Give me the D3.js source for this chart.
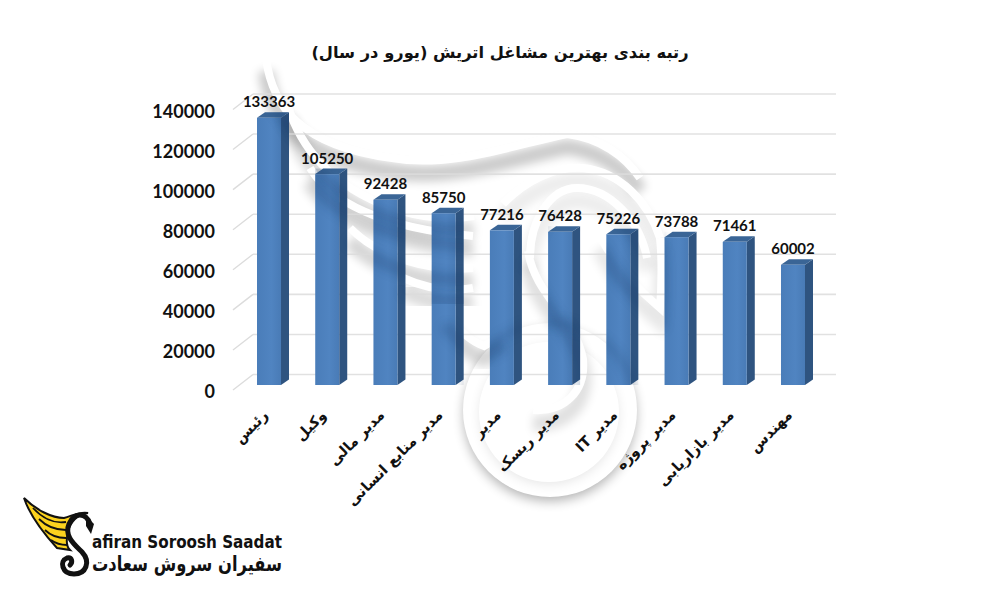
<!DOCTYPE html>
<html>
<head>
<meta charset="utf-8">
<script src="https://cdn.jsdelivr.net/npm/d3@7"></script>
<style>
  html,body{margin:0;padding:0;background:#fff;}
  svg{display:block;}
</style>
</head>
<body>
<script>
var titleText = "رتبه بندی بهترین مشاغل اتریش (یورو در سال)";
var categories = ["رئیس","وکیل","مدیر مالی","مدیر منابع انسانی","مدیر","مدیر ریسک","مدیر IT","مدیر پروژه","مدیر بازاریابی","مهندس"];
var salaries = [133363,105250,92428,85750,77216,76428,75226,73788,71461,60002];
var yTicks = [0,20000,40000,60000,80000,100000,120000,140000];

var svg = d3.select("body").append("svg").attr("width",1000).attr("height",600);
var defs = svg.append("defs");

defs.append("filter").attr("id","soft").attr("x","-30%").attr("y","-30%").attr("width","160%").attr("height","160%")
  .append("feGaussianBlur").attr("stdDeviation",5);
defs.append("filter").attr("id","ringSoft").attr("x","-30%").attr("y","-30%").attr("width","160%").attr("height","160%")
  .append("feGaussianBlur").attr("stdDeviation",6);

var faceGrad = defs.append("linearGradient").attr("id","face");
faceGrad.append("stop").attr("offset","0%").attr("stop-color","#4a7db9");
faceGrad.append("stop").attr("offset","60%").attr("stop-color","#5084c1");
faceGrad.append("stop").attr("offset","100%").attr("stop-color","#497bb6");

// scales: back wall, front of the bars, and the axis labels sit on three offset planes
var x = d3.scaleBand().domain(categories).range([257,805]).paddingInner(0.5876).paddingOuter(0);
var yBack = d3.scaleLinear().domain([0,140000]).range([374.5,94]);
var yFront = d3.scaleLinear().domain([0,140000]).range([385,104.5]);
var yLabel = d3.scaleLinear().domain([0,140000]).range([391.5,111.5]);
var depthX = 8, depthY = 5.5;

// watermark (swan): edges that throw a soft shadow downwards
var wmEdges = [
  "M266,62 C272,110 300,150 392,162 C450,172 510,150 567,138 C600,142 625,160 640,182",
  "M288,110 C300,150 330,190 392,212 C420,222 450,224 474,220",
  "M310,172 C330,205 380,232 473,240",
  "M350,232 C380,262 430,276 473,272",
  "M403,282 C425,292 450,296 473,292",
  "M445,318 C460,335 470,345 484,350 L505,338",
  "M503,208 C525,185 555,170 583,172 C620,176 648,205 660,242",
  "M530,262 C530,225 550,192 577,192 C610,192 640,225 647,262",
  "M528,255 C535,300 575,320 583,363 C586,395 565,416 533,414",
  "M600,240 C615,270 640,295 660,312 C662,285 662,262 660,242"
];
var wmStrength = [.2,.14,.17,.16,.14,.16,.07,.07,.12,.09];
var wm = svg.append("g").attr("fill","none").attr("stroke-linecap","butt");

// ring
wm.append("circle").attr("cx",550).attr("cy",415).attr("r",86).attr("fill","#000").attr("opacity",.3)
  .attr("filter","url(#ringSoft)");
wm.append("circle").attr("cx",550).attr("cy",410).attr("r",87).attr("fill","#fff");
wm.append("circle").attr("cx",549).attr("cy",415).attr("r",69).attr("fill","#000").attr("opacity",.1)
  .attr("filter","url(#ringSoft)");
wm.append("circle").attr("cx",549).attr("cy",412).attr("r",70).attr("fill","#fff");
wmEdges.forEach(function(d,i){
  wm.append("path").attr("d",d).attr("stroke","#000").attr("stroke-width",16)
    .attr("opacity",wmStrength[i]).attr("filter","url(#soft)").attr("transform","translate(0,9)");
});
wmEdges.forEach(function(d){
  wm.append("path").attr("d",d).attr("stroke","#fff").attr("stroke-width",8).attr("transform","translate(0,-4)");
});

// back wall grid
var grid = svg.append("g");
grid.selectAll("line.h").data(yTicks).enter().append("line").attr("class","h")
  .attr("x1",253).attr("x2",836)
  .attr("y1",function(d){return yBack(d);}).attr("y2",function(d){return yBack(d);})
  .attr("stroke","#dcdcdc").attr("stroke-width",1.6).attr("opacity",.85);
grid.selectAll("line.d").data(yTicks).enter().append("line").attr("class","d")
  .attr("x1",233).attr("x2",253)
  .attr("y1",function(d){return yBack(d)+15.5;}).attr("y2",function(d){return yBack(d);})
  .attr("stroke","#dcdcdc").attr("stroke-width",1.4);

// y axis labels
var yAxis = d3.axisLeft(yLabel).tickValues(yTicks).tickSize(0).tickPadding(0).tickFormat(d3.format("d"));
svg.append("g").attr("transform","translate(215,0)").call(yAxis)
  .call(function(g){g.select(".domain").remove();})
  .selectAll("text").attr("font-family","Lato, 'Open Sans', sans-serif")
  .attr("font-weight",700).attr("font-size",18).attr("fill","#111");

// bars
var bars = svg.append("g").selectAll("g").data(categories).enter().append("g");
bars.append("polygon").attr("fill","#2f5480").attr("points",function(d,i){
  var l=x(d)+x.bandwidth(), t=yFront(salaries[i]), b=yFront(0);
  return [[l,t],[l+depthX,t-depthY],[l+depthX,b-depthY],[l,b]].join(" ");
});
bars.append("polygon").attr("fill","#3a6596").attr("points",function(d,i){
  var l=x(d), r=l+x.bandwidth(), t=yFront(salaries[i]);
  return [[l,t],[l+depthX,t-depthY],[r+depthX,t-depthY],[r,t]].join(" ");
});
bars.append("rect").attr("fill","url(#face)")
  .attr("x",function(d){return x(d);}).attr("width",x.bandwidth())
  .attr("y",function(d,i){return yFront(salaries[i]);})
  .attr("height",function(d,i){return yFront(0)-yFront(salaries[i]);});

// watermark shows faintly through the bars
var barClip = defs.append("clipPath").attr("id","barClip");
categories.forEach(function(c,i){
  barClip.append("rect").attr("x",x(c)).attr("width",x.bandwidth()+depthX)
    .attr("y",yFront(salaries[i])-depthY).attr("height",yFront(0)-yFront(salaries[i])+depthY);
});
var wmTop = svg.append("g").attr("clip-path","url(#barClip)").attr("fill","none");
wmEdges.forEach(function(d){
  wmTop.append("path").attr("d",d).attr("stroke","#173a68").attr("stroke-width",12)
    .attr("opacity",.25).attr("filter","url(#soft)").attr("transform","translate(0,7)");
});
wmTop.append("circle").attr("cx",550).attr("cy",410).attr("r",87).attr("stroke","#173a68")
  .attr("stroke-width",8).attr("opacity",.2).attr("filter","url(#soft)");

// value labels
bars.append("text").attr("text-anchor","middle")
  .attr("x",function(d){return x(d)+x.bandwidth()/2;})
  .attr("y",function(d,i){return yFront(salaries[i])-depthY-5;})
  .attr("font-family","Lato, 'Open Sans', sans-serif").attr("font-weight",700).attr("font-size",15).attr("fill","#111")
  .text(function(d,i){return salaries[i];});

// category labels
svg.append("g").selectAll("text").data(categories).enter().append("text")
  .attr("direction","rtl").attr("text-anchor","start")
  .attr("font-family","'DejaVu Sans', sans-serif").attr("font-weight",700).attr("font-size",14.5).attr("fill","#111")
  .attr("transform",function(d){return "translate("+(x(d)+x.bandwidth()/2)+",416) rotate(-45)";})
  .text(function(d){return d;});

// title
svg.append("text").attr("x",500).attr("y",58).attr("text-anchor","middle").attr("direction","rtl")
  .attr("font-family","'DejaVu Sans', sans-serif").attr("font-weight",700).attr("font-size",16.3).attr("fill","#111")
  .text(titleText);

// company logo
var logo = svg.append("g");
logo.append("path").attr("fill","#fbd21e").attr("stroke","#111").attr("stroke-width",2)
  .attr("d","M24,498 C36,510 52,518 64,518 C72,516 80,511 88,513 C78,514 70,522 68,532 C66,540 66,546 70,550 L57,548 C46,536 30,516 24,498 Z");
["M33,508 C42,518 54,524 66,522","M39,519 C46,526 56,530 66,530","M45,530 C50,535 58,538 66,538","M51,540 C55,543 60,545 67,545"].forEach(function(d){
  logo.append("path").attr("d",d).attr("fill","none").attr("stroke","#111").attr("stroke-width",1.8);
});
logo.append("path").attr("fill","none").attr("stroke","#111").attr("stroke-width",5).attr("stroke-linecap","round")
  .attr("d","M90,524 C86,512 74,512 69,524 C64,536 74,544 82,552 C91,562 86,574 74,574 C62,574 59,561 67,558 C72,557 73,562 70,565");
logo.append("path").attr("fill","#111").attr("d","M86,516 L94,524 L91,534 L86,526 Z");
logo.append("text").attr("x",92).attr("y",548).attr("font-family","'DejaVu Sans', sans-serif").attr("font-weight",700)
  .attr("font-size",17).attr("fill","#111").attr("textLength",190).attr("lengthAdjust","spacingAndGlyphs")
  .text("afiran Soroosh Saadat");
logo.append("text").attr("x",92).attr("y",571).attr("font-family","'DejaVu Sans', sans-serif").attr("font-weight",700)
  .attr("font-size",21).attr("fill","#111").attr("textLength",190).attr("lengthAdjust","spacingAndGlyphs")
  .text("سفیران سروش سعادت");
</script>
</body>
</html>
